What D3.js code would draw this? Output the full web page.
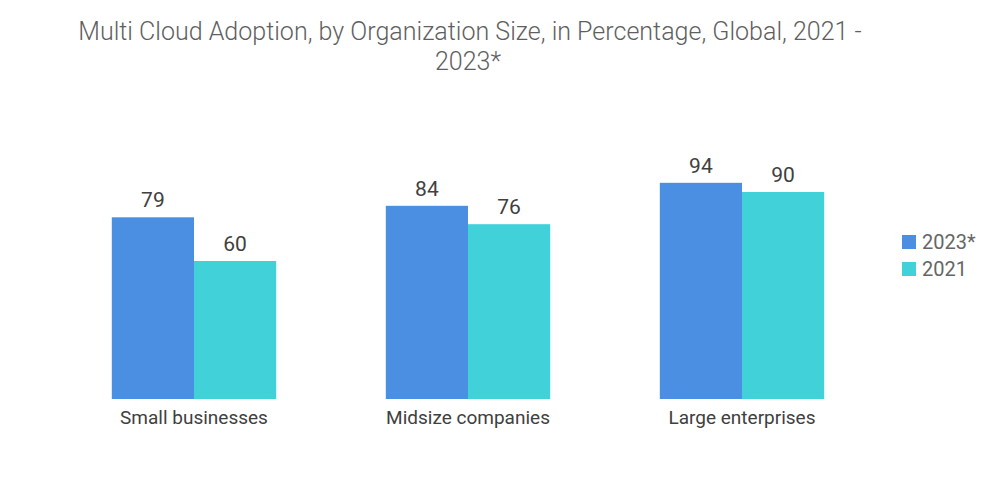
<!DOCTYPE html>
<html>
<head>
<meta charset="utf-8">
<script src="https://cdn.jsdelivr.net/npm/d3@7"></script>
<style>
  body { margin: 0; background: #fff; }
  text { font-family: "Liberation Sans Narrow", "Roboto", sans-serif; }
</style>
</head>
<body>
<div id="chart"></div>
<script>
const categories = ["Small businesses", "Midsize companies", "Large enterprises"];
const seriesNames = ["2023*", "2021"];
const values2023 = [79, 84, 94];
const values2021 = [60, 76, 90];
const colors = ["#4a8fe1", "#40d1d9"];

const width = 1000, height = 504;
const baseline = 399;

const svg = d3.select("#chart").append("svg")
  .attr("width", width)
  .attr("height", height);

// titre
const title = svg.append("g").attr("class", "title")
  .attr("fill", "#5f5f5f")
  .attr("text-anchor", "middle");
const t1 = title.append("text")
  .attr("x", 470).attr("y", 40)
  .style("font-size", "23px")
  .style("font-weight", 300)
  .text("Multi Cloud Adoption, by Organization Size, in Percentage, Global, 2021 -");
title.append("text")
  .attr("x", 468).attr("y", 70)
  .style("font-size", "23px")
  .style("font-weight", 300)
  .text("2023*");
// ajuster la largeur du titre
const w1 = t1.node().getComputedTextLength();
const fs = 23 * 784 / w1;
title.selectAll("text").style("font-size", fs + "px");

const x0 = d3.scaleBand()
  .domain(categories)
  .range([57, 879])
  .paddingInner(0.4)
  .paddingOuter(0.2);

const x1 = d3.scaleBand()
  .domain(seriesNames)
  .range([0, x0.bandwidth()]);

const y = d3.scaleLinear()
  .domain([0, 100])
  .range([baseline, baseline - 230]);

const rows = categories.map((c, i) => ({
  category: c,
  bars: [
    {series: seriesNames[0], value: values2023[i]},
    {series: seriesNames[1], value: values2021[i]}
  ]
}));

const color = d3.scaleOrdinal(seriesNames, colors);

const groups = svg.append("g").selectAll("g")
  .data(rows)
  .join("g")
  .attr("transform", d => `translate(${x0(d.category)},0)`);

groups.selectAll("rect")
  .data(d => d.bars)
  .join("rect")
  .attr("x", d => x1(d.series))
  .attr("y", d => y(d.value))
  .attr("width", x1.bandwidth())
  .attr("height", d => y(0) - y(d.value))
  .attr("fill", d => color(d.series));

groups.selectAll("text.value")
  .data(d => d.bars)
  .join("text")
  .attr("class", "value")
  .attr("x", d => x1(d.series) + x1.bandwidth() / 2)
  .attr("y", d => y(d.value) - 10)
  .attr("text-anchor", "middle")
  .attr("fill", "#404040")
  .style("font-size", "21px")
  .text(d => d.value);

// axe des catégories
const xAxis = svg.append("g")
  .attr("transform", `translate(0,${baseline})`)
  .call(d3.axisBottom(x0).tickSize(0).tickPadding(12));
xAxis.select(".domain").remove();
xAxis.selectAll("text")
  .attr("fill", "#404040")
  .style("font-size", "19px")
  .style("font-family", "\"Liberation Sans Narrow\", Roboto, sans-serif");

// légende
const legend = svg.append("g")
  .attr("transform", "translate(902,235)");
const item = legend.selectAll("g")
  .data(seriesNames)
  .join("g")
  .attr("transform", (d, i) => `translate(0,${i * 27})`);
item.append("rect")
  .attr("width", 14).attr("height", 14)
  .attr("fill", d => color(d));
item.append("text")
  .attr("x", 20).attr("y", 14)
  .attr("fill", "#666")
  .style("font-size", "20px")
  .text(d => d);
</script>
</body>
</html>
